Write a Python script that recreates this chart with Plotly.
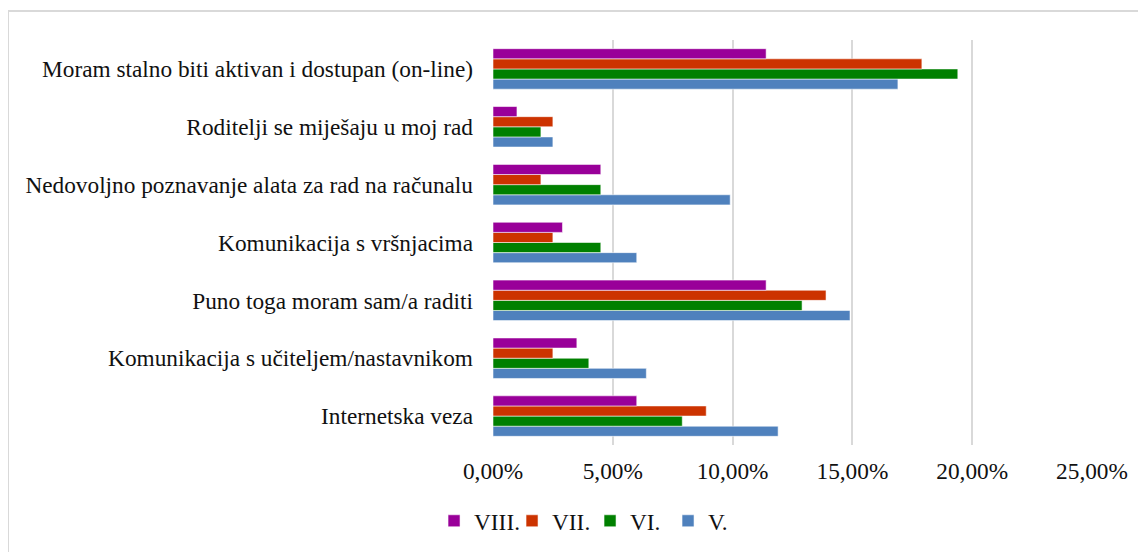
import plotly.graph_objects as go

# categories listed bottom -> top (plotly draws the first category at the bottom)
categories = [
    "Internetska veza",
    "Komunikacija s učiteljem/nastavnikom",
    "Puno toga moram sam/a raditi",
    "Komunikacija s vršnjacima",
    "Nedovoljno poznavanje alata za rad na računalu",
    "Roditelji se miješaju u moj rad",
    "Moram stalno biti aktivan i dostupan (on-line)",
]

v_vals = [0.119, 0.064, 0.149, 0.060, 0.099, 0.025, 0.169]
vi_vals = [0.079, 0.040, 0.129, 0.045, 0.045, 0.020, 0.194]
vii_vals = [0.089, 0.025, 0.139, 0.025, 0.020, 0.025, 0.179]
viii_vals = [0.060, 0.035, 0.114, 0.029, 0.045, 0.010, 0.114]

series = [
    ("V.", v_vals, "#4F81BD"),
    ("VI.", vi_vals, "#008000"),
    ("VII.", vii_vals, "#CC3300"),
    ("VIII.", viii_vals, "#990099"),
]

x_ticks = [0, 0.05, 0.10, 0.15, 0.20, 0.25]

FONT = "Liberation Serif"

fig = go.Figure()
for name, vals, color in series:
    fig.add_trace(
        go.Bar(
            y=categories,
            x=vals,
            name=name,
            orientation="h",
            marker={"color": color, "line": {"color": "rgba(255,255,255,0.55)", "width": 1}},
        )
    )

fig.update_layout(
    width=1146,
    height=552,
    barmode="group",
    bargap=0.3,
    bargroupgap=0,
    separators=",.",
    paper_bgcolor="white",
    plot_bgcolor="white",
    font={"family": FONT, "size": 23.3, "color": "#111111"},
    # the page sits 8px in from the window edge, so margins are trimmed by that much
    margin={"l": 485, "r": 62, "t": 32, "b": 115},
    showlegend=True,
    legend={
        "orientation": "h",
        "traceorder": "reversed",
        "x": 0.162, "xanchor": "center",
        "y": -0.188, "yanchor": "middle",
        "font": {"family": FONT, "size": 23.3},
        "itemwidth": 30,
        "entrywidth": 33,
        "entrywidthmode": "pixels",
    },
    xaxis={
        "range": [0, 0.25],
        "tickvals": x_ticks,
        "tickformat": ".2%",
        "showgrid": True,
        "gridcolor": "#d9d9d9",
        "gridwidth": 2,
        "zeroline": False,
        "showline": False,
        "ticklabelstandoff": 10,
    },
    yaxis={
        "showgrid": False,
        "showline": False,
        "ticks": "",
        "ticklabelstandoff": 19,
    },
    shapes=[
        {
            "type": "rect", "xref": "paper", "yref": "paper",
            "x0": -0.8097, "x1": 1.2, "y0": -0.3, "y1": 1.0716,
            "line": {"color": "#d9d9d9", "width": 2},
            "fillcolor": "rgba(0,0,0,0)",
            "layer": "below",
        }
    ],
)

fig.write_html("out.html")
